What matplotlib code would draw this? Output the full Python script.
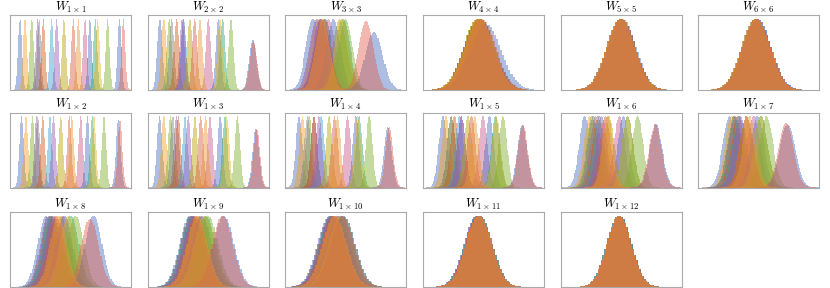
import numpy as np
import matplotlib
matplotlib.use('Agg')
import matplotlib.pyplot as plt

plt.rcParams['mathtext.fontset'] = 'cm'

# colours of the 18 weight histograms, in drawing order
colors = ['#4a6fc0', '#f5a020', '#7fae2a', '#8f5aa8', '#808080', '#cc5a10',
          '#3a9fcf', '#9a5ab0', '#b8a000', '#c65a8a', '#4a6fc0', '#2aa870',
          '#e6b020', '#7fae2a', '#4a6fc0', '#e06050', '#d85a40', '#e89530']

titles = [r'$W_{1\times1}$', r'$W_{2\times2}$', r'$W_{3\times3}$', r'$W_{4\times4}$',
          r'$W_{5\times5}$', r'$W_{6\times6}$',
          r'$W_{1\times2}$', r'$W_{1\times3}$', r'$W_{1\times4}$', r'$W_{1\times5}$',
          r'$W_{1\times6}$', r'$W_{1\times7}$',
          r'$W_{1\times8}$', r'$W_{1\times9}$', r'$W_{1\times10}$', r'$W_{1\times11}$',
          r'$W_{1\times12}$']

# centre of every histogram (axis fraction)
c_1x1 = [0.083, 0.124, 0.180, 0.228, 0.240, 0.275, 0.344, 0.386, 0.446, 0.620, 0.660, 0.705, 0.725, 0.807, 0.905, 0.937, 0.523, 0.565]
c_2x2 = [0.102, 0.135, 0.180, 0.285, 0.200, 0.240, 0.300, 0.296, 0.350, 0.503, 0.585, 0.620, 0.600, 0.690, 0.870, 0.876, 0.390, 0.434]
c_3x3 = [0.230, 0.270, 0.330, 0.260, 0.300, 0.300, 0.330, 0.290, 0.450, 0.360, 0.400, 0.480, 0.470, 0.500, 0.735, 0.670, 0.320, 0.310]
c_4x4 = [0.470, 0.460, 0.455, 0.465, 0.460, 0.470, 0.465, 0.460, 0.455, 0.470, 0.475, 0.460, 0.465, 0.470, 0.515, 0.480, 0.460, 0.465]
c_5x5 = [0.495, 0.500, 0.505, 0.500, 0.495, 0.505, 0.500, 0.495, 0.505, 0.500, 0.505, 0.500, 0.495, 0.505, 0.510, 0.505, 0.500, 0.500]
c_6x6 = [0.480, 0.485, 0.480, 0.475, 0.485, 0.480, 0.485, 0.480, 0.475, 0.485, 0.490, 0.480, 0.485, 0.480, 0.490, 0.485, 0.480, 0.480]
c_1x2 = [0.096, 0.132, 0.185, 0.220, 0.230, 0.270, 0.330, 0.360, 0.420, 0.584, 0.640, 0.680, 0.694, 0.777, 0.895, 0.909, 0.490, 0.510]
c_1x3 = [0.100, 0.135, 0.190, 0.240, 0.210, 0.254, 0.310, 0.337, 0.392, 0.517, 0.600, 0.640, 0.655, 0.743, 0.895, 0.903, 0.440, 0.480]
c_1x4 = [0.116, 0.144, 0.200, 0.240, 0.185, 0.240, 0.300, 0.280, 0.365, 0.517, 0.586, 0.613, 0.600, 0.696, 0.850, 0.862, 0.410, 0.434]
c_1x5 = [0.165, 0.190, 0.234, 0.317, 0.234, 0.260, 0.300, 0.317, 0.372, 0.496, 0.550, 0.600, 0.606, 0.660, 0.820, 0.826, 0.400, 0.427]
c_1x6 = [0.200, 0.240, 0.260, 0.290, 0.270, 0.310, 0.320, 0.340, 0.400, 0.486, 0.520, 0.555, 0.555, 0.637, 0.790, 0.783, 0.370, 0.390]
c_1x7 = [0.260, 0.280, 0.300, 0.310, 0.300, 0.330, 0.340, 0.350, 0.400, 0.460, 0.490, 0.520, 0.520, 0.565, 0.740, 0.730, 0.400, 0.427]
c_1x8 = [0.300, 0.330, 0.340, 0.320, 0.330, 0.350, 0.340, 0.360, 0.420, 0.440, 0.450, 0.500, 0.480, 0.540, 0.690, 0.660, 0.380, 0.400]
c_1x9 = [0.350, 0.370, 0.360, 0.360, 0.360, 0.380, 0.370, 0.380, 0.420, 0.440, 0.450, 0.480, 0.470, 0.500, 0.630, 0.620, 0.400, 0.410]
c_1x10 = [0.370, 0.380, 0.380, 0.375, 0.380, 0.390, 0.385, 0.390, 0.420, 0.430, 0.440, 0.470, 0.460, 0.480, 0.480, 0.470, 0.400, 0.410]
c_1x11 = [0.445, 0.450, 0.450, 0.445, 0.450, 0.455, 0.450, 0.455, 0.460, 0.460, 0.465, 0.470, 0.465, 0.470, 0.470, 0.465, 0.455, 0.460]
c_1x12 = [0.480, 0.485, 0.480, 0.485, 0.480, 0.485, 0.480, 0.485, 0.490, 0.485, 0.490, 0.490, 0.485, 0.490, 0.490, 0.488, 0.485, 0.485]

centers = [c_1x1, c_2x2, c_3x3, c_4x4, c_5x5, c_6x6,
           c_1x2, c_1x3, c_1x4, c_1x5, c_1x6, c_1x7,
           c_1x8, c_1x9, c_1x10, c_1x11, c_1x12]

# spread of the histograms per panel: most of them, the right blue one, the right red one
sig_main = [0.016, 0.021, 0.058, 0.12, 0.115, 0.115, 0.018, 0.022, 0.027, 0.035, 0.046, 0.056, 0.07, 0.085, 0.10, 0.105, 0.10]
sig_b3 = [0.016, 0.030, 0.072, 0.13, 0.115, 0.115, 0.019, 0.027, 0.032, 0.040, 0.052, 0.064, 0.070, 0.085, 0.10, 0.105, 0.10]
sig_r2 = [0.016, 0.030, 0.060, 0.12, 0.115, 0.115, 0.019, 0.027, 0.032, 0.040, 0.052, 0.062, 0.073, 0.085, 0.10, 0.105, 0.10]

W, H = 830, 288
fig = plt.figure(figsize=(W / 100, H / 100), dpi=100)

col_left = [10, 147.5, 285, 423, 560.5, 698]
row_top = [15, 112.5, 212]
aw, ah = 121, 75

for k in range(len(titles)):
    r, c = k // 6, k % 6
    ax = fig.add_axes([col_left[c] / W, 1 - (row_top[r] + ah) / H, aw / W, ah / H])
    for i, mu in enumerate(centers[k]):
        s = sig_main[k]
        if i == 14:
            s = sig_b3[k]
        elif i == 15:
            s = sig_r2[k]
        # each histogram gets its own bins over its range
        edges = np.linspace(mu - 4 * s, mu + 4 * s, 61)
        mids = (edges[:-1] + edges[1:]) / 2
        dens = np.exp(-0.5 * ((mids - mu) / s) ** 2) / s
        ax.hist(mids, bins=edges, weights=dens, histtype='stepfilled',
                color=colors[i], alpha=0.45, linewidth=0)
    ax.set_xlim(0, 1)
    ax.set_xticks([])
    ax.set_yticks([])
    for sp in ax.spines.values():
        sp.set_color('#aaaaaa')
        sp.set_linewidth(0.8)
    ax.set_title(titles[k], fontsize=9, pad=3)

plt.savefig('out.png', dpi=100)
